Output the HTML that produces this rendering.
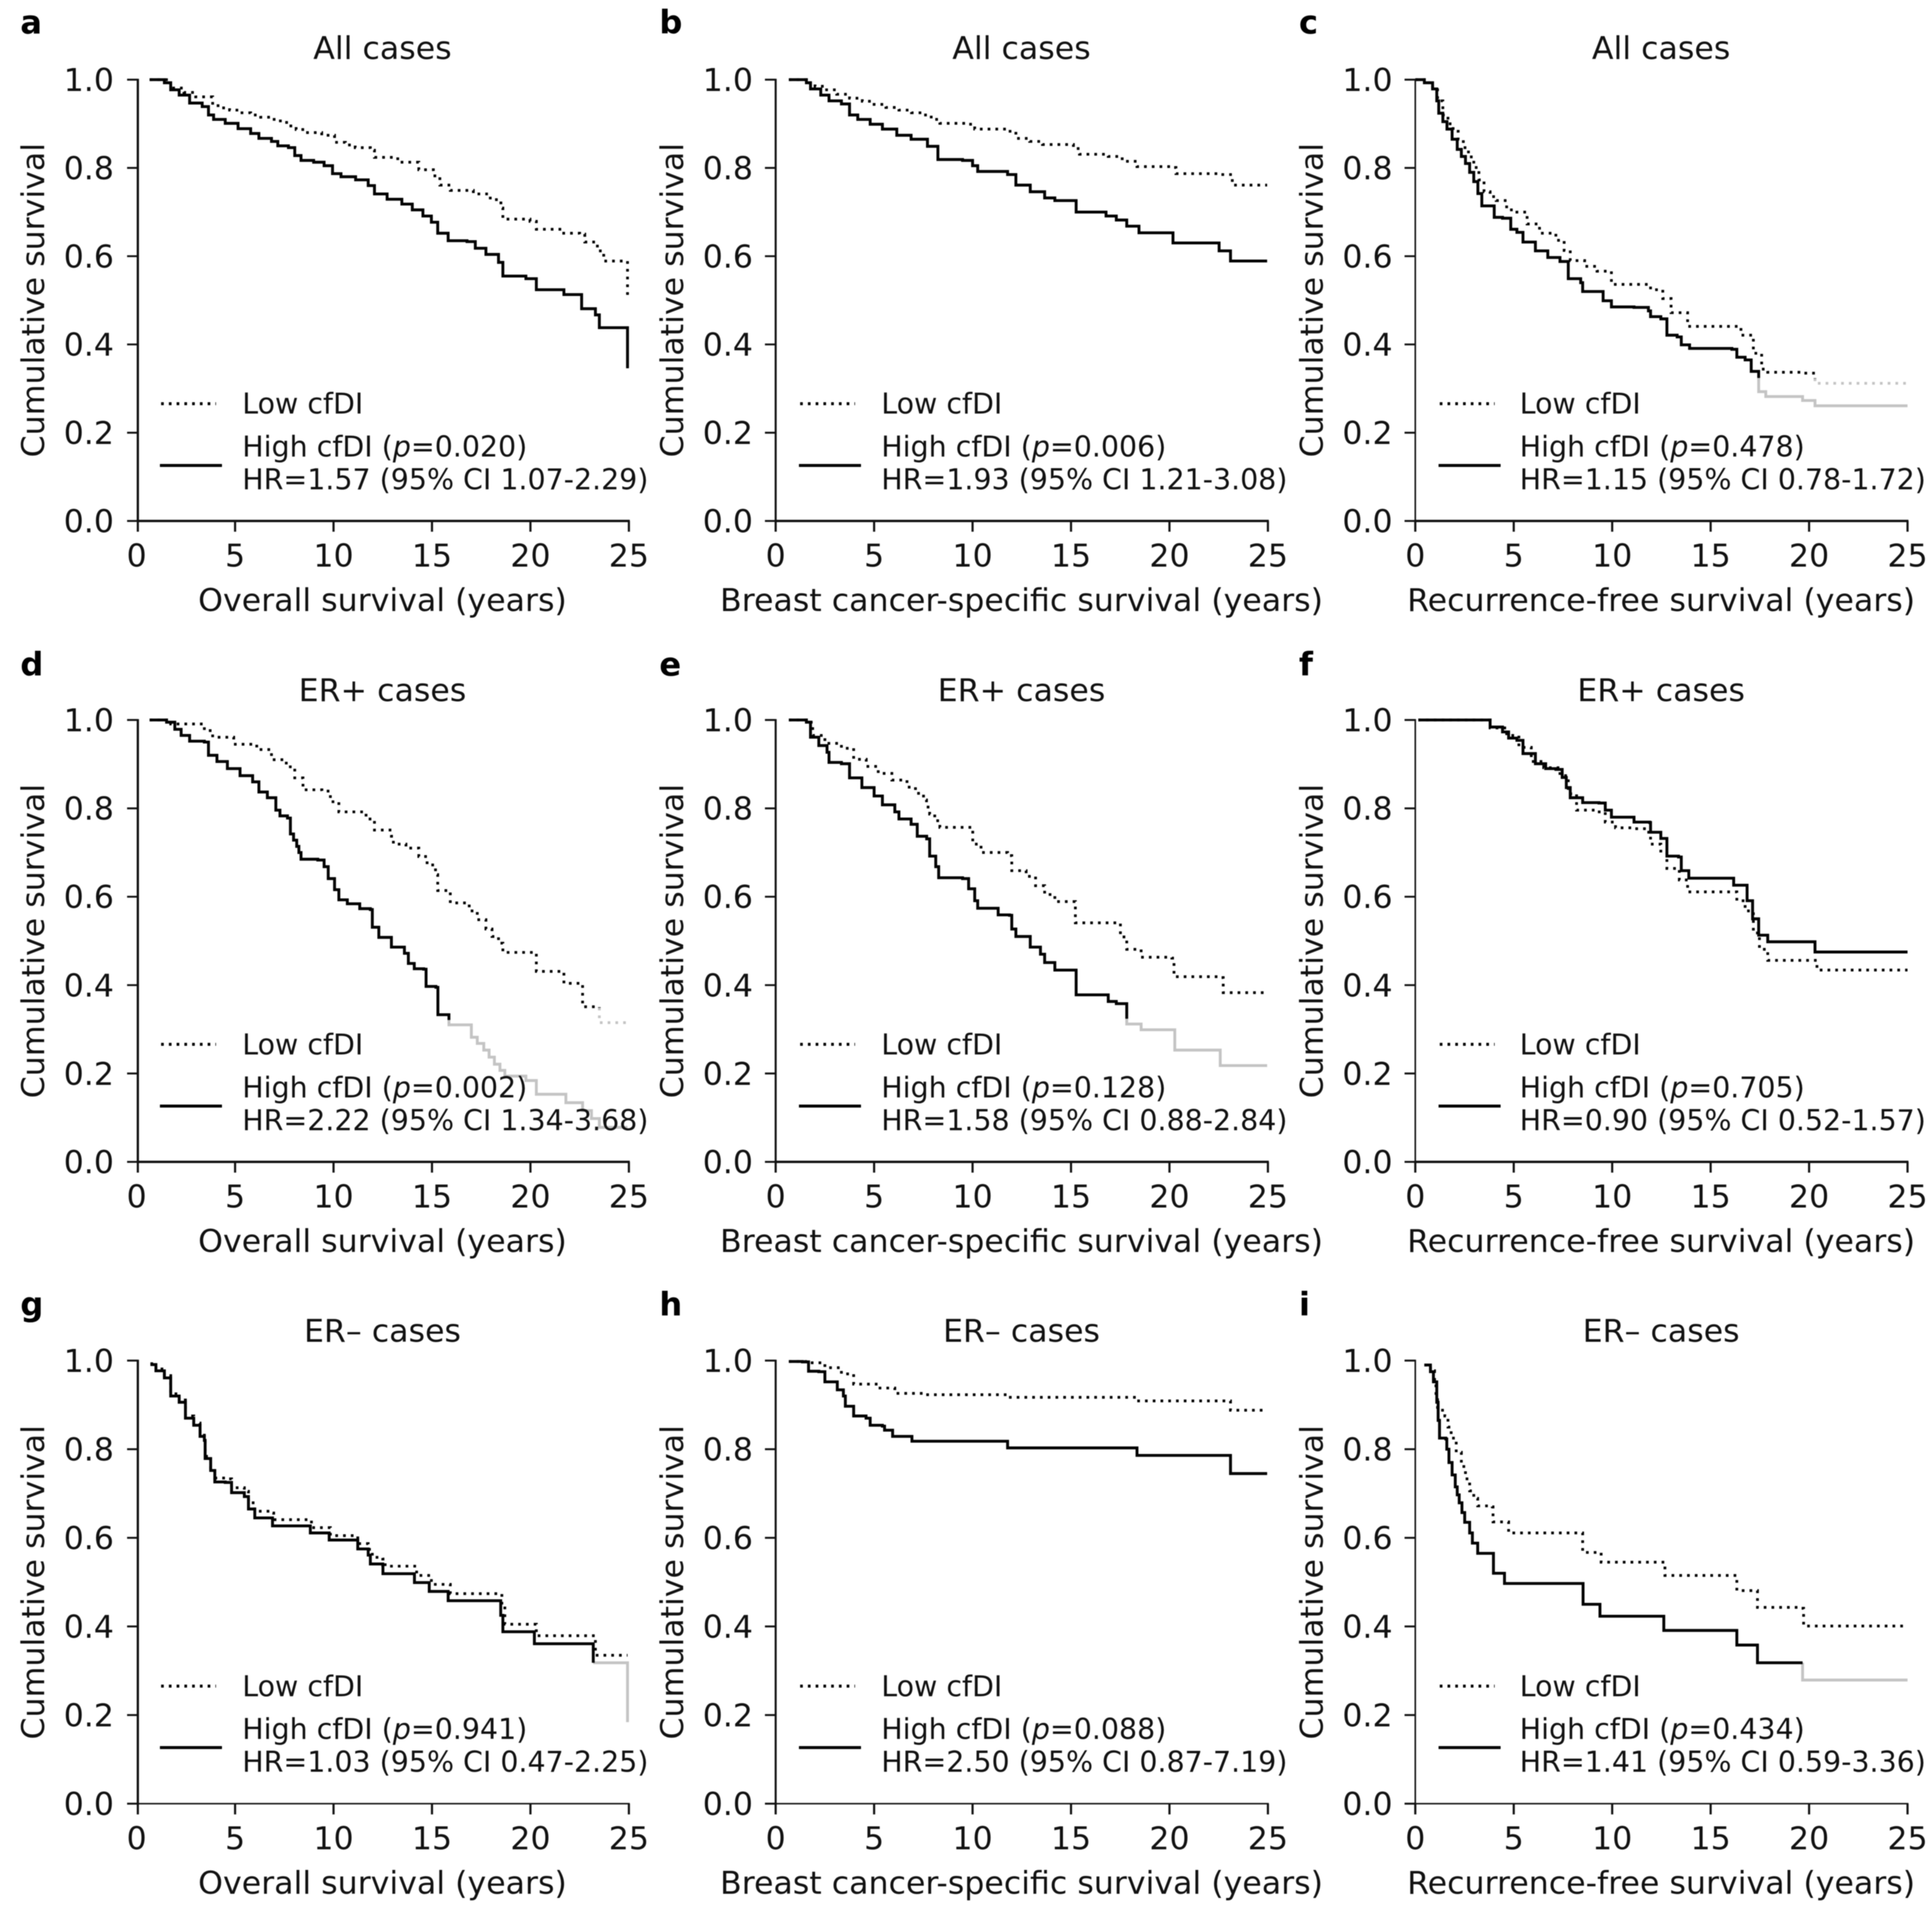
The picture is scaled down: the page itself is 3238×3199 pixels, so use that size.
<!DOCTYPE html>
<html lang="en">
<head>
<meta charset="utf-8">
<title>Kaplan-Meier survival curves by cfDI</title>
<style>
html,body{margin:0;padding:0;background:#fff;}
body{width:3238px;height:3199px;overflow:hidden;}
svg{display:block;filter:blur(0.9px);}
text{font-family:"DejaVu Sans","Liberation Sans",sans-serif;fill:#111;}
.letter{font-size:54px;font-weight:bold;fill:#000;}
.title,.xlabel,.ylabel{font-size:53px;text-anchor:middle;}
.tick{font-size:53px;}
.legend{font-size:47.7px;}
.legend tspan.i{font-style:italic;}
.ll{stroke:#000;stroke-width:5;stroke-dasharray:4.5 8.5;}
.lh{stroke:#000;stroke-width:5;}
</style>
</head>
<body>
<svg id="figure" xmlns="http://www.w3.org/2000/svg" width="3238" height="3199" viewBox="0 0 3238 3199">
<rect width="3238" height="3199" fill="#fff"/>

<g id="panel-a" transform="translate(229,873)">
<text class="letter" x="-195" y="-817">a</text>
<text class="title" x="412" y="-774">All cases</text>
<text class="ylabel" transform="translate(-155,-370) rotate(-90)">Cumulative survival</text>
<text class="xlabel" x="412" y="151">Overall survival (years)</text>
<g>
<line class="ll" x1="41" x2="133" y1="-196.5" y2="-196.5"/>
<line class="lh" x1="39" x2="143" y1="-93" y2="-93"/>
<text class="legend" x="177" y="-180">Low cfDI</text>
<text class="legend" x="177" y="-108">High cfDI (<tspan class="i">p</tspan>=0.020)</text>
<text class="legend" x="177" y="-53">HR=1.57 (95% CI 1.07-2.29)</text>
</g>
</g>

<g id="panel-b" transform="translate(1300,873)">
<text class="letter" x="-195" y="-817">b</text>
<text class="title" x="412" y="-774">All cases</text>
<text class="ylabel" transform="translate(-155,-370) rotate(-90)">Cumulative survival</text>
<text class="xlabel" x="412" y="151">Breast cancer-specific survival (years)</text>
<g>
<line class="ll" x1="41" x2="133" y1="-196.5" y2="-196.5"/>
<line class="lh" x1="39" x2="143" y1="-93" y2="-93"/>
<text class="legend" x="177" y="-180">Low cfDI</text>
<text class="legend" x="177" y="-108">High cfDI (<tspan class="i">p</tspan>=0.006)</text>
<text class="legend" x="177" y="-53">HR=1.93 (95% CI 1.21-3.08)</text>
</g>
</g>

<g id="panel-c" transform="translate(2372,873)">
<text class="letter" x="-195" y="-817">c</text>
<text class="title" x="412" y="-774">All cases</text>
<text class="ylabel" transform="translate(-155,-370) rotate(-90)">Cumulative survival</text>
<text class="xlabel" x="412" y="151">Recurrence-free survival (years)</text>
<g>
<line class="ll" x1="41" x2="133" y1="-196.5" y2="-196.5"/>
<line class="lh" x1="39" x2="143" y1="-93" y2="-93"/>
<text class="legend" x="175" y="-180">Low cfDI</text>
<text class="legend" x="175" y="-108">High cfDI (<tspan class="i">p</tspan>=0.478)</text>
<text class="legend" x="175" y="-53">HR=1.15 (95% CI 0.78-1.72)</text>
</g>
</g>

<g id="panel-d" transform="translate(229,1947)">
<text class="letter" x="-195" y="-815">d</text>
<text class="title" x="412" y="-772">ER+ cases</text>
<text class="ylabel" transform="translate(-155,-370) rotate(-90)">Cumulative survival</text>
<text class="xlabel" x="412" y="151">Overall survival (years)</text>
<g>
<line class="ll" x1="41" x2="133" y1="-197" y2="-197"/>
<line class="lh" x1="39" x2="143" y1="-93.5" y2="-93.5"/>
<text class="legend" x="177" y="-180">Low cfDI</text>
<text class="legend" x="177" y="-108">High cfDI (<tspan class="i">p</tspan>=0.002)</text>
<text class="legend" x="177" y="-53">HR=2.22 (95% CI 1.34-3.68)</text>
</g>
</g>

<g id="panel-e" transform="translate(1300,1947)">
<text class="letter" x="-195" y="-815">e</text>
<text class="title" x="412" y="-772">ER+ cases</text>
<text class="ylabel" transform="translate(-155,-370) rotate(-90)">Cumulative survival</text>
<text class="xlabel" x="412" y="151">Breast cancer-specific survival (years)</text>
<g>
<line class="ll" x1="41" x2="133" y1="-197" y2="-197"/>
<line class="lh" x1="39" x2="143" y1="-93.5" y2="-93.5"/>
<text class="legend" x="177" y="-180">Low cfDI</text>
<text class="legend" x="177" y="-108">High cfDI (<tspan class="i">p</tspan>=0.128)</text>
<text class="legend" x="177" y="-53">HR=1.58 (95% CI 0.88-2.84)</text>
</g>
</g>

<g id="panel-f" transform="translate(2372,1947)">
<text class="letter" x="-195" y="-815">f</text>
<text class="title" x="412" y="-772">ER+ cases</text>
<text class="ylabel" transform="translate(-155,-370) rotate(-90)">Cumulative survival</text>
<text class="xlabel" x="412" y="151">Recurrence-free survival (years)</text>
<g>
<line class="ll" x1="41" x2="133" y1="-197" y2="-197"/>
<line class="lh" x1="39" x2="143" y1="-93.5" y2="-93.5"/>
<text class="legend" x="175" y="-180">Low cfDI</text>
<text class="legend" x="175" y="-108">High cfDI (<tspan class="i">p</tspan>=0.705)</text>
<text class="legend" x="175" y="-53">HR=0.90 (95% CI 0.52-1.57)</text>
</g>
</g>

<g id="panel-g" transform="translate(229,3022.5)">
<text class="letter" x="-195" y="-818">g</text>
<text class="title" x="412" y="-774">ER– cases</text>
<text class="ylabel" transform="translate(-155,-371) rotate(-90)">Cumulative survival</text>
<text class="xlabel" x="412" y="151">Overall survival (years)</text>
<g>
<line class="ll" x1="41" x2="133" y1="-197" y2="-197"/>
<line class="lh" x1="39" x2="143" y1="-94" y2="-94"/>
<text class="legend" x="177" y="-180">Low cfDI</text>
<text class="legend" x="177" y="-108.5">High cfDI (<tspan class="i">p</tspan>=0.941)</text>
<text class="legend" x="177" y="-53.5">HR=1.03 (95% CI 0.47-2.25)</text>
</g>
</g>

<g id="panel-h" transform="translate(1300,3022.5)">
<text class="letter" x="-195" y="-818">h</text>
<text class="title" x="412" y="-774">ER– cases</text>
<text class="ylabel" transform="translate(-155,-371) rotate(-90)">Cumulative survival</text>
<text class="xlabel" x="412" y="151">Breast cancer-specific survival (years)</text>
<g>
<line class="ll" x1="41" x2="133" y1="-197" y2="-197"/>
<line class="lh" x1="39" x2="143" y1="-94" y2="-94"/>
<text class="legend" x="177" y="-180">Low cfDI</text>
<text class="legend" x="177" y="-108.5">High cfDI (<tspan class="i">p</tspan>=0.088)</text>
<text class="legend" x="177" y="-53.5">HR=2.50 (95% CI 0.87-7.19)</text>
</g>
</g>

<g id="panel-i" transform="translate(2372,3022.5)">
<text class="letter" x="-195" y="-818">i</text>
<text class="title" x="412" y="-774">ER– cases</text>
<text class="ylabel" transform="translate(-155,-371) rotate(-90)">Cumulative survival</text>
<text class="xlabel" x="412" y="151">Recurrence-free survival (years)</text>
<g>
<line class="ll" x1="41" x2="133" y1="-197" y2="-197"/>
<line class="lh" x1="39" x2="143" y1="-94" y2="-94"/>
<text class="legend" x="175" y="-180">Low cfDI</text>
<text class="legend" x="175" y="-108.5">High cfDI (<tspan class="i">p</tspan>=0.434)</text>
<text class="legend" x="175" y="-53.5">HR=1.41 (95% CI 0.59-3.36)</text>
</g>
</g>
</svg>

<script>
const xTickValues=[0,5,10,15,20,25];
const yTickValues=[0,0.2,0.4,0.6,0.8,1.0];
const xDomainMax=25;

const aLowTimes=[0.66,1.73,2.4,3.0,3.86,4.3,4.72,5.25,5.79,6.3,6.85,7.3,7.71,8.1,8.56,9.4,10.05,10.6,11.1,11.87,12.08,13.26,14.33,15.07,15.4,15.93,17.1,17.96,18.5,18.6,19.98,20.3,21.58,22.5,22.76,23.4,23.72,24.93,24.93];
const aLowSurvival=[1,0.981,0.971,0.961,0.941,0.936,0.931,0.925,0.92,0.915,0.91,0.903,0.895,0.887,0.88,0.874,0.858,0.852,0.846,0.84,0.824,0.813,0.796,0.782,0.761,0.749,0.741,0.728,0.709,0.684,0.679,0.661,0.652,0.65,0.632,0.612,0.589,0.586,0.505];
const aHighTimes=[0.66,1.41,1.73,2.16,2.69,3.33,3.65,3.91,4.5,5.15,5.79,6.21,6.85,7.17,7.71,8.03,8.35,8.99,9.52,9.95,10.38,11.12,11.76,12.08,12.72,13.47,14.0,14.54,14.97,15.29,15.82,16.78,17.2,17.74,18.38,18.6,19.77,20.3,21.7,22.6,23.3,23.5,24.93];
const aHighSurvival=[1,0.993,0.977,0.965,0.947,0.939,0.92,0.91,0.901,0.889,0.878,0.867,0.86,0.85,0.846,0.828,0.817,0.813,0.805,0.787,0.78,0.773,0.76,0.741,0.729,0.718,0.705,0.691,0.677,0.652,0.635,0.633,0.618,0.604,0.586,0.555,0.549,0.524,0.513,0.481,0.467,0.438,0.346];

const bLowTimes=[0.67,1.56,2.0,2.5,3.1,3.75,4.4,5.0,5.6,6.26,6.9,7.5,7.9,8.34,9.8,10.11,11.78,12.2,12.9,13.55,15.12,15.43,16.89,17.6,18.35,20.12,20.33,22.52,23.19,24.96];
const bLowSurvival=[1,0.993,0.985,0.977,0.967,0.958,0.951,0.944,0.937,0.931,0.925,0.92,0.91,0.901,0.899,0.888,0.883,0.867,0.86,0.853,0.844,0.831,0.826,0.815,0.803,0.801,0.787,0.785,0.761,0.761];
const bHighTimes=[0.67,1.56,1.77,2.29,2.71,3.34,3.75,4.17,4.8,5.42,6.15,6.88,7.71,8.24,9.49,10.0,10.26,11.78,12.2,12.93,13.66,14.18,15.26,16.78,17.3,17.83,18.45,20.18,22.52,23.1,24.96];
const bHighSurvival=[1,0.993,0.979,0.965,0.952,0.945,0.92,0.91,0.899,0.888,0.874,0.865,0.849,0.819,0.817,0.805,0.792,0.785,0.761,0.746,0.732,0.726,0.70,0.691,0.682,0.668,0.653,0.63,0.612,0.589,0.589];

const cLowTimes=[0,0.46,0.88,1.13,1.4,1.66,1.92,2.18,2.44,2.7,2.97,3.23,3.49,3.8,4.11,4.64,5.16,5.68,6.31,7.14,7.56,7.87,8.6,9.23,9.96,10.9,11.95,12.57,12.99,13.83,16.02,16.54,17.17,17.59,17.9,19.67,20.3];
const cLowSurvival=[1,0.993,0.981,0.952,0.92,0.9,0.883,0.865,0.846,0.825,0.801,0.773,0.746,0.735,0.726,0.705,0.7,0.673,0.652,0.636,0.613,0.59,0.577,0.566,0.536,0.536,0.524,0.504,0.472,0.441,0.441,0.421,0.38,0.344,0.337,0.335,0.323];
const cLowTailTimes=[20.3,25];
const cLowTailSurvival=[0.312,0.312];
const cHighTimes=[0,0.46,0.88,1.09,1.19,1.4,1.61,1.87,2.13,2.34,2.55,2.76,2.97,3.18,3.38,4.01,4.43,4.85,5.16,5.47,6.1,6.73,7.35,7.77,8.4,8.5,9.23,9.54,9.96,11.11,11.84,11.95,12.47,12.78,13.3,13.51,13.93,16.08,16.33,16.75,17.06,17.44];
const cHighSurvival=[1,0.993,0.979,0.952,0.924,0.905,0.888,0.865,0.842,0.826,0.81,0.79,0.769,0.742,0.714,0.688,0.686,0.661,0.654,0.632,0.612,0.597,0.588,0.549,0.54,0.52,0.52,0.499,0.485,0.484,0.476,0.463,0.458,0.421,0.417,0.399,0.391,0.389,0.371,0.365,0.339,0.324];
const cHighTailTimes=[17.44,17.8,19.67,20.3,25];
const cHighTailSurvival=[0.293,0.282,0.273,0.261,0.261];

const dLowTimes=[0.66,1.73,3.44,3.86,4.93,6.1,6.85,7.6,8.03,8.45,9.41,9.84,10.27,11.65,12.08,12.94,13.04,13.68,14.33,14.75,15.18,15.29,15.93,16.84,16.89,17.3,17.74,18.05,18.38,18.6,19.84,20.3,21.58,21.7,22.55,22.65,23.5];
const dLowSurvival=[1,0.991,0.976,0.961,0.945,0.933,0.91,0.894,0.869,0.842,0.839,0.815,0.792,0.776,0.751,0.737,0.719,0.71,0.691,0.672,0.65,0.614,0.586,0.586,0.568,0.548,0.527,0.51,0.495,0.474,0.474,0.431,0.428,0.404,0.404,0.351,0.349];
const dLowTailTimes=[23.5,24.93];
const dLowTailSurvival=[0.315,0.315];
const dHighTimes=[0.66,1.52,1.94,2.26,2.69,3.44,3.65,4.08,4.61,5.25,5.89,6.21,6.64,7.07,7.28,7.66,7.81,7.97,8.13,8.24,8.35,9.2,9.52,9.73,10.05,10.27,10.7,11.33,11.87,11.97,12.3,12.94,12.94,13.6,13.8,14.1,14.58,14.7,15.2,15.3,15.86];
const dHighSurvival=[1,0.995,0.979,0.965,0.952,0.95,0.92,0.906,0.89,0.874,0.86,0.837,0.824,0.796,0.783,0.778,0.742,0.728,0.714,0.70,0.685,0.683,0.668,0.641,0.616,0.593,0.584,0.573,0.571,0.531,0.508,0.506,0.486,0.472,0.449,0.437,0.436,0.397,0.395,0.333,0.321];
const dHighTailTimes=[15.86,16.84,17.0,17.3,17.63,17.9,18.17,18.45,18.7,19.77,20.3,21.7,21.8,22.65,23.1,23.5,24.93];
const dHighTailSurvival=[0.31,0.31,0.282,0.268,0.253,0.237,0.221,0.207,0.194,0.184,0.153,0.153,0.134,0.116,0.098,0.078,0.078];

const eLowTimes=[0.67,1.56,1.88,2.5,3.34,3.96,4.6,5.21,5.9,6.67,7.1,7.51,7.66,7.82,8.08,8.34,9.49,10.01,10.43,11.78,11.99,12.72,13.2,13.66,14.18,15.18,15.22,16.47,17.51,17.83,18.56,20.12,20.23,22.52,22.73,24.96];
const eLowSurvival=[1,0.995,0.965,0.947,0.936,0.911,0.895,0.879,0.864,0.848,0.834,0.819,0.803,0.787,0.772,0.757,0.757,0.719,0.7,0.693,0.659,0.646,0.625,0.605,0.589,0.589,0.541,0.541,0.509,0.481,0.463,0.461,0.419,0.417,0.383,0.381];
const eHighTimes=[0.67,1.56,1.77,2.19,2.61,2.71,3.34,3.75,4.38,5.0,5.42,6.05,6.26,6.88,7.19,7.67,7.82,8.13,8.28,9.49,9.8,10.11,10.26,11.26,11.3,11.88,11.99,12.2,12.89,12.93,13.45,13.66,14.18,15.22,15.26,16.78,16.89,17.3,17.83];
const eHighSurvival=[1,0.995,0.961,0.942,0.927,0.904,0.901,0.869,0.847,0.828,0.808,0.792,0.776,0.764,0.737,0.731,0.692,0.668,0.643,0.641,0.618,0.591,0.574,0.574,0.559,0.558,0.527,0.51,0.51,0.486,0.47,0.451,0.434,0.434,0.378,0.378,0.363,0.358,0.324];
const eHighTailTimes=[17.83,18.56,20.18,20.27,22.58,22.58,24.96];
const eHighTailSurvival=[0.312,0.299,0.299,0.253,0.253,0.218,0.218];

const fLowTimes=[0.15,3.38,3.8,4.64,5.26,5.89,6.52,7.35,7.77,8.19,9.23,9.65,10.17,11.11,11.74,11.95,12.47,12.78,13.41,13.83,15.92,16.33,16.75,17.17,17.48,17.9,20.09,20.4,25];
const fLowSurvival=[1,1,0.982,0.965,0.938,0.906,0.892,0.874,0.833,0.796,0.792,0.769,0.756,0.754,0.746,0.719,0.7,0.664,0.638,0.611,0.611,0.591,0.568,0.518,0.481,0.456,0.456,0.434,0.434];
const fHighTimes=[0.15,3.38,3.8,4.43,4.74,5.16,5.47,6.1,6.62,7.14,7.46,7.67,7.87,8.5,9.33,9.65,9.96,11.07,11.11,11.9,11.95,12.47,12.78,13.37,13.51,13.89,16.12,16.17,16.75,16.85,17.13,17.44,17.9,20.3,20.3,25];
const fHighSurvival=[1,1,0.984,0.973,0.959,0.954,0.924,0.901,0.89,0.888,0.87,0.847,0.824,0.813,0.812,0.796,0.78,0.78,0.769,0.768,0.746,0.732,0.692,0.69,0.659,0.642,0.642,0.626,0.626,0.591,0.55,0.513,0.498,0.498,0.475,0.475];

const gLowTimes=[0.7,0.98,1.41,1.73,2.16,2.48,2.9,3.22,3.44,3.48,3.76,3.97,4.5,4.82,5.47,5.68,6.0,6.85,6.96,8.77,8.88,9.74,9.84,11.02,11.23,11.76,11.97,12.5,12.62,14.11,14.22,14.86,14.97,15.71,15.93,18.38,18.55,18.7,20.09,20.3,23.19,23.3,24.93];
const gLowSurvival=[0.993,0.981,0.966,0.925,0.911,0.875,0.859,0.835,0.825,0.784,0.757,0.735,0.733,0.713,0.705,0.679,0.66,0.656,0.641,0.641,0.623,0.623,0.605,0.605,0.587,0.574,0.556,0.552,0.536,0.536,0.515,0.515,0.495,0.495,0.474,0.474,0.449,0.405,0.405,0.379,0.379,0.335,0.335];
const gHighTimes=[0.7,0.98,1.41,1.73,2.16,2.48,2.9,3.22,3.44,3.48,3.76,3.97,4.5,4.82,5.47,5.68,6.0,6.85,6.9,8.77,8.82,9.74,9.78,11.12,11.23,11.76,11.87,12.5,12.51,14.11,14.11,14.86,14.86,15.78,15.82,18.38,18.49,18.6,20.2,20.2,23.19,23.19];
const gHighSurvival=[0.991,0.977,0.961,0.92,0.906,0.87,0.854,0.829,0.82,0.779,0.752,0.726,0.725,0.702,0.693,0.665,0.645,0.645,0.627,0.627,0.611,0.611,0.595,0.595,0.575,0.561,0.541,0.538,0.519,0.519,0.499,0.499,0.479,0.479,0.458,0.458,0.425,0.388,0.388,0.361,0.361,0.318];
const gHighTailTimes=[24.93,24.93];
const gHighTailSurvival=[0.318,0.184];

const hLowTimes=[0.67,1.67,2.5,3.34,3.96,5.21,6.05,7.51,11.68,11.78,18.25,18.35,23.04,23.1,24.96];
const hLowSurvival=[0.998,0.995,0.984,0.97,0.947,0.938,0.926,0.923,0.923,0.917,0.917,0.909,0.909,0.888,0.888];
const hHighTimes=[0.67,1.36,1.67,2.19,2.5,3.13,3.44,3.54,3.96,4.59,4.8,5.42,5.53,5.94,6.88,6.92,11.78,11.78,18.35,18.35,23.04,23.1,24.96];
const hHighSurvival=[0.998,0.997,0.976,0.975,0.952,0.934,0.92,0.897,0.875,0.87,0.854,0.852,0.843,0.829,0.829,0.818,0.818,0.803,0.803,0.786,0.786,0.745,0.745];

const iLowTimes=[0.46,0.77,0.98,1.05,1.13,1.5,1.66,1.82,2.08,2.34,2.55,2.76,2.97,3.17,3.91,3.95,4.74,8.4,8.5,9.38,9.44,12.62,12.68,16.33,16.33,17.31,17.38,19.57,19.72,25];
const iLowSurvival=[0.99,0.977,0.943,0.915,0.888,0.875,0.85,0.825,0.793,0.761,0.733,0.706,0.689,0.672,0.67,0.636,0.611,0.611,0.567,0.567,0.545,0.545,0.515,0.515,0.481,0.481,0.443,0.441,0.401,0.401];
const iHighTimes=[0.46,0.77,0.92,1.09,1.16,1.23,1.55,1.6,1.71,1.87,2.03,2.13,2.23,2.37,2.51,2.76,2.9,3.17,3.91,3.97,4.53,8.46,8.52,9.38,9.38,12.62,12.62,16.33,16.33,17.38,17.38,19.67];
const iHighSurvival=[0.99,0.975,0.952,0.906,0.865,0.825,0.823,0.80,0.77,0.742,0.715,0.697,0.679,0.657,0.635,0.611,0.588,0.565,0.565,0.52,0.497,0.497,0.45,0.45,0.423,0.423,0.391,0.391,0.358,0.358,0.318,0.318];
const iHighTailTimes=[19.67,25];
const iHighTailSurvival=[0.279,0.279];

const panels=[
 {id:'a',h:739.5,sx:2,yw:3.8,xw:4,low:[aLowTimes,aLowSurvival],high:[aHighTimes,aHighSurvival]},
 {id:'b',h:739.5,sx:0,yw:3.4,xw:4,low:[bLowTimes,bLowSurvival],high:[bHighTimes,bHighSurvival]},
 {id:'c',h:739.5,sx:0,yw:2.6,xw:4,low:[cLowTimes,cLowSurvival],lowTail:[cLowTailTimes,cLowTailSurvival],high:[cHighTimes,cHighSurvival],highTail:[cHighTailTimes,cHighTailSurvival]},
 {id:'d',h:740.5,sx:2,yw:3.8,xw:4,low:[dLowTimes,dLowSurvival],lowTail:[dLowTailTimes,dLowTailSurvival],high:[dHighTimes,dHighSurvival],highTail:[dHighTailTimes,dHighTailSurvival]},
 {id:'e',h:740.5,sx:0,yw:3.4,xw:4,low:[eLowTimes,eLowSurvival],high:[eHighTimes,eHighSurvival],highTail:[eHighTailTimes,eHighTailSurvival]},
 {id:'f',h:740.5,sx:0,yw:2.6,xw:4,low:[fLowTimes,fLowSurvival],high:[fHighTimes,fHighSurvival]},
 {id:'g',h:742.5,sx:2,yw:3.8,xw:2.6,low:[gLowTimes,gLowSurvival],high:[gHighTimes,gHighSurvival],highTail:[gHighTailTimes,gHighTailSurvival]},
 {id:'h',h:742.5,sx:0,yw:3.4,xw:2.6,low:[hLowTimes,hLowSurvival],high:[hHighTimes,hHighSurvival]},
 {id:'i',h:742.5,sx:0,yw:2.6,xw:2.6,low:[iLowTimes,iLowSurvival],high:[iHighTimes,iHighSurvival],highTail:[iHighTailTimes,iHighTailSurvival]}
];

const SVG_NS='http://www.w3.org/2000/svg';
const plotWidth=825;
const axisStroke='#111';

function xScale(t){return t/xDomainMax*plotWidth;}
function stepPath(times,surv,yScale,fromT,fromS){
  let d='';
  let start=0;
  if(fromT!==undefined){
    d='M'+xScale(fromT).toFixed(1)+' '+yScale(fromS).toFixed(1);
  }else{
    d='M'+xScale(times[0]).toFixed(1)+' '+yScale(surv[0]).toFixed(1);
    start=1;
  }
  for(let i=start;i<times.length;i++){
    d+='H'+xScale(times[i]).toFixed(1)+'V'+yScale(surv[i]).toFixed(1);
  }
  return d;
}
function drawCurve(parent,d,color,dotted,name){
  const el=document.createElementNS(SVG_NS,'path');
  el.setAttribute('d',d);
  el.setAttribute('fill','none');
  el.setAttribute('stroke',color);
  el.setAttribute('stroke-width',dotted?'4.6':'4.8');
  if(dotted){el.setAttribute('stroke-dasharray','4.5 8.5');}
  
  
  parent.appendChild(el);
}
function drawLine(parent,x1,y1,x2,y2,w,name){
  const el=document.createElementNS(SVG_NS,'line');
  el.setAttribute('x1',x1);
  el.setAttribute('y1',y1);
  el.setAttribute('x2',x2);
  el.setAttribute('y2',y2);
  el.setAttribute('stroke',axisStroke);
  el.setAttribute('stroke-width',w);
  
  
  parent.appendChild(el);
}
function drawLabel(parent,x,y,anchor,str,name){
  const el=document.createElementNS(SVG_NS,'text');
  el.setAttribute('class','tick');
  el.setAttribute('x',x);
  el.setAttribute('y',y);
  el.setAttribute('text-anchor',anchor);
  el.textContent=str;
  
  
  parent.appendChild(el);
}

panels.forEach(function(p){
  const root=document.getElementById('panel-'+p.id);
  const yScale=function(s){return -s*p.h;};
  const g=document.createElementNS(SVG_NS,'g');
  
  
  root.insertBefore(g,root.firstChild);

  const lowT=p.low[0],lowS=p.low[1],highT=p.high[0],highS=p.high[1];
  if(p.lowTail){
    drawCurve(g,stepPath(p.lowTail[0],p.lowTail[1],yScale,lowT[lowT.length-1],lowS[lowS.length-1]),'#c4c4c4',true,'low-cfdi-tail');
  }
  drawCurve(g,stepPath(lowT,lowS,yScale),'#000',true,'low-cfdi-curve');
  if(p.highTail){
    drawCurve(g,stepPath(p.highTail[0],p.highTail[1],yScale,highT[highT.length-1],highS[highS.length-1]),'#c4c4c4',false,'high-cfdi-tail');
  }
  drawCurve(g,stepPath(highT,highS,yScale),'#000',false,'high-cfdi-curve');

  drawLine(g,p.sx,1.5,p.sx,yScale(1)-1.5,p.yw,'y-axis-line');
  drawLine(g,p.sx-1.5,0,plotWidth+1.5,0,p.xw,'x-axis-line');
  xTickValues.forEach(function(v){
    const tx=v===0?p.sx:xScale(v);
    drawLine(g,tx,0,tx,18,3.6,'x-tick');
    drawLabel(g,xScale(v),76.5,'middle',String(v),'x-tick-label');
  });
  yTickValues.forEach(function(v){
    drawLine(g,p.sx-18,yScale(v),p.sx,yScale(v),3.2,'y-tick');
    drawLabel(g,-38,yScale(v)+19,'end',v.toFixed(1),'y-tick-label');
  });
});
</script>
</body>
</html>
